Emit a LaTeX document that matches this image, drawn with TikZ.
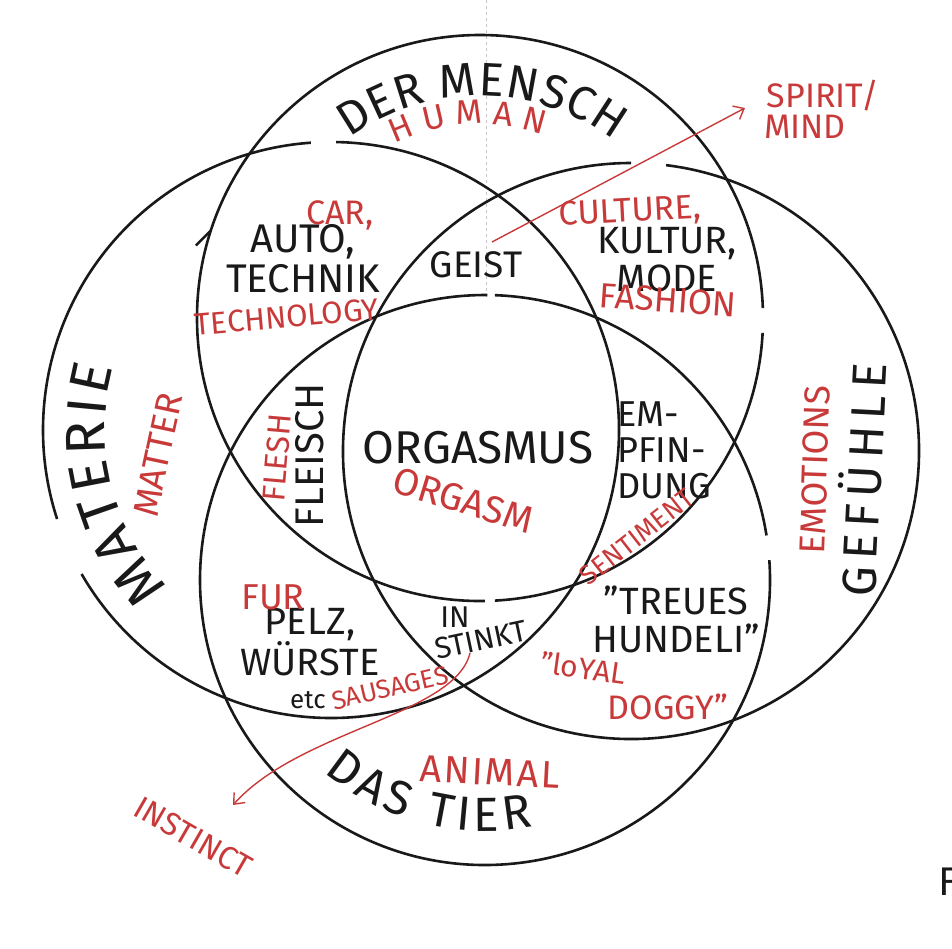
\documentclass[tikz,border=0pt]{standalone}
\usepackage{fontspec}
\setmainfont{Fira Sans}
\usepackage{tikz}
\usetikzlibrary{arrows.meta, decorations.text}

\definecolor{ink}{RGB}{25,25,25}
\definecolor{inkred}{RGB}{200,58,58}
\newcommand{\fsz}[1]{\fontsize{#1}{#1}\selectfont}
\newcommand{\lsp}[1]{\addfontfeature{LetterSpace=#1}}

\begin{document}
\begin{tikzpicture}[
    x=1pt, y=-1pt,
    ring/.style={draw=ink, line width=2.6pt},
    blk/.style={text=ink, inner sep=0pt, align=center},
    rd/.style={text=inkred, inner sep=0pt, align=center},
    redarrow/.style={draw=inkred, line width=1.4pt, -{Straight Barb[length=9pt, width=15pt]}},
    foldline/.style={draw=black!22, dashed, line width=0.8pt},
    arclabel/.style={decorate, decoration={text along path, text align={fit to path}, #1}}
]
\useasboundingbox (0,0) rectangle (952,948);

% circle centres
\coordinate (mensch) at (480,318);
\coordinate (materie) at (331,430);
\coordinate (gefuehle) at (631,451);
\coordinate (tier) at (485,580);

% fold of the paper
\draw[foldline] (486,0) -- (486,300);

% Circles, with the pen gaps
\draw[ring] ([shift={(3:283)}]mensch) arc[start angle=3, end angle=87, radius=283];
\draw[ring] ([shift={(89:283)}]mensch) arc[start angle=89, end angle=358, radius=283];
\draw[ring] ([shift={(198:283)}]mensch) -- ++(-15,15);
\draw[ring] ([shift={(162:288)}]materie) arc[start angle=162, end angle=266, radius=288];
\draw[ring] ([shift={(271:288)}]materie) arc[start angle=271, end angle=510, radius=288];
\draw[ring] ([shift={(277:288)}]gefuehle) arc[start angle=277, end angle=630, radius=288];
\draw[ring] ([shift={(-4:285)}]tier) arc[start angle=-4, end angle=270.5, radius=285];
\draw[ring] ([shift={(272:285)}]tier) arc[start angle=272, end angle=351, radius=285];

% Circle names
\path[arclabel={text={|\fsz{47}\color{ink}|DER MENSCH}}] ([shift={(-126:222)}]mensch) arc[start angle=-126, end angle=-53, radius=222];
\path[arclabel={text={|\fsz{34}\color{inkred}|HUMAN}}] ([shift={(-116:194)}]mensch) arc[start angle=-116, end angle=-71, radius=194];
\path[arclabel={text={|\fsz{56}\color{ink}|MATERIE}}] ([shift={(136:226)}]materie) arc[start angle=136, end angle=196, radius=226];
\path[arclabel={text={|\fsz{48}\color{ink}|DAS TIER}}] ([shift={(130:251)}]tier) arc[start angle=130, end angle=79, radius=251];
\node[blk, rotate=87, font={\fsz{48}\lsp{14}}] (gefuehletxt) at (860,480) {GEFÜHLE};
\node[rd, rotate=78, font=\fsz{36}] (matter) at (158,455) {MATTER};
\node[rd, rotate=88, font=\fsz{36}] (emotions) at (815,470) {EMOTIONS};
\node[rd, rotate=-3, font={\fsz{38}\lsp{6}}] (animal) at (490,772) {ANIMAL};

% Overlaps
\node[blk, font=\fsz{40}] (autotech) at (303,259) {AUTO,\\TECHNIK};
\node[rd, font=\fsz{34}] (car) at (340,215) {CAR,};
\node[rd, rotate=5, font=\fsz{31}] (technology) at (287,317) {TECHNOLOGY};
\node[blk, font=\fsz{37}] (geist) at (476,265) {GEIST};
\node[blk, font=\fsz{38}] (kultur) at (667,260) {KULTUR,\\MODE};
\node[rd, rotate=3, font=\fsz{34}] (culture) at (630,213) {CULTURE,};
\node[rd, rotate=-4, font=\fsz{35}] (fashion) at (668,300) {FASHION};
\node[blk, font=\fsz{46}] (orgasmus) at (478,448) {ORGASMUS};
\node[rd, rotate=-17, font=\fsz{38}] (orgasm) at (463,500) {ORGASM};
\node[blk, rotate=90, font=\fsz{40}] (fleisch) at (310,455) {FLEISCH};
\node[rd, rotate=85, font=\fsz{32}] (flesh) at (277,458) {FLESH};
\node[blk, align=left, anchor=west, font=\fsz{36}] (empfindung) at (617,450) {EM-\\PFIN-\\DUNG};
\node[rd, rotate=38, font=\fsz{27}] (sentiment) at (637,537) {SENTIMENT};
\node[blk, font=\fsz{38}] (pelz) at (310,642) {PELZ,\\WÜRSTE};
\node[blk, font=\fsz{26}] (etc) at (308,700) {etc};
\node[rd, font=\fsz{36}] (fur) at (273,597) {FUR};
\node[rd, rotate=13, font=\fsz{26}] (sausages) at (390,688) {SAUSAGES};
\node[blk, font=\fsz{30}] (in) at (455,617) {IN};
\node[blk, rotate=12, font=\fsz{30}] (stinkt) at (481,640) {STINKT};
\node[blk, font=\fsz{38}] (treues) at (676,619) {"TREUES\\HUNDELI"};
\node[rd, rotate=-8, font=\fsz{30}] (loyal) at (583,668) {"loYAL};
\node[rd, font=\fsz{34}] (doggy) at (668,707) {DOGGY"};

% Outer red notes
\node[rd, font=\fsz{34}] (spirit) at (823,96) {SPIRIT/};
\node[rd, font=\fsz{34}] (mind) at (805,127) {MIND};
\node[rd, rotate=-30, font=\fsz{32}] (instinct) at (193,837) {INSTINCT};
\node[blk, anchor=west, font=\fsz{40}] (pagef) at (938,882) {F};

% Arrows
\coordinate (geistend) at (492,242);
\coordinate (spirittip) at (745,108);
\coordinate (instinktend) at (470,653);
\coordinate (instincttip) at (233,805);
\draw[redarrow] (geistend) -- (spirittip);
\draw[redarrow] (instinktend) .. controls (455,715) and (300,730) .. (instincttip);

\end{tikzpicture}
\end{document}
